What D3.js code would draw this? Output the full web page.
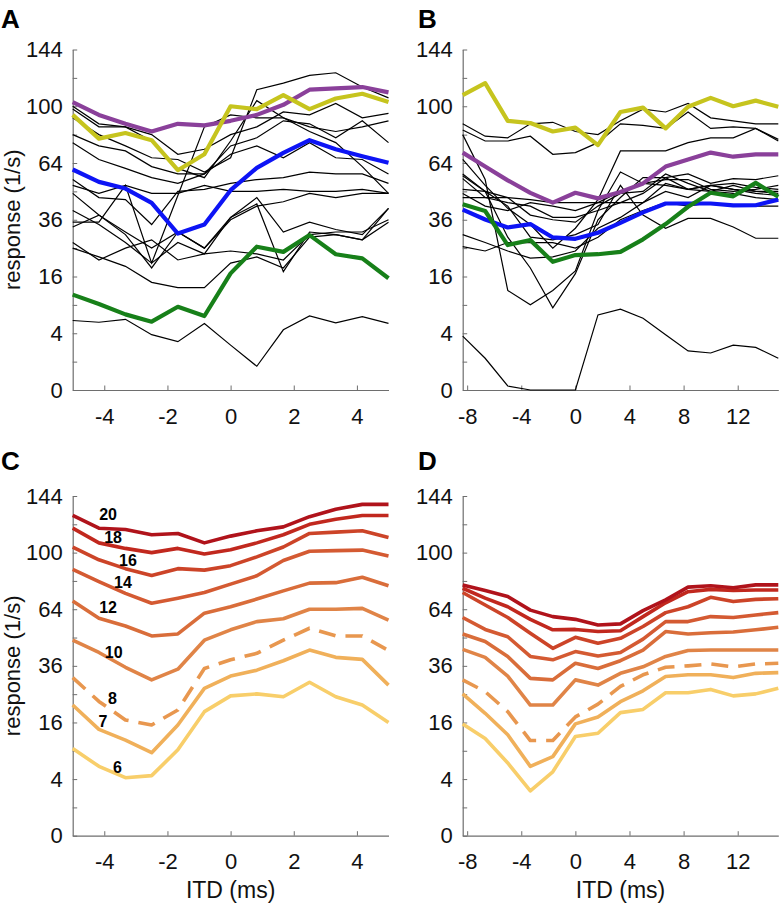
<!DOCTYPE html>
<html><head><meta charset="utf-8">
<script src="https://cdn.jsdelivr.net/npm/d3@7"></script>
<style>
body{margin:0;background:#fff;}
svg{display:block;font-family:"Liberation Sans",Arial,Helvetica,sans-serif;}
</style></head><body>
<svg id="chart" width="782" height="905"></svg>
<script>
// ---------- data ----------
const itdA = [-5, -4.17, -3.33, -2.5, -1.67, -0.83, 0, 0.83, 1.67, 2.5, 3.33, 4.17, 5];
const itdB = [-8.33, -6.67, -5, -3.33, -1.67, 0, 1.67, 3.33, 5, 6.67, 8.33, 10, 11.67, 13.33, 15];

const yTickValues = [0, 1, 4, 9, 16, 25, 36, 49, 64, 81, 100, 121, 144];
const yTickLabels = [0, 4, 16, 36, 64, 100, 144];
const xTicksA = [-4, -2, 0, 2, 4];
const xTicksB = [-8, -4, 0, 4, 8, 12];

// Panel A: individual neurons (black) and highlighted neurons
const blackA = [
  [100, 88, 86, 81, 69, 72, 81, 86, 96, 94, 102, 92, 95],
  [92, 81, 74, 67, 66, 59, 67, 112, 117, 123, 125, 114, 106],
  [98, 86, 86, 77, 61, 56, 77, 104, 92, 83, 76, 62, 48],
  [76, 66, 61, 56, 53, 58, 74, 79, 90, 88, 79, 90, 76],
  [81, 74, 71, 62, 58, 58, 69, 74, 67, 76, 67, 66, 58],
  [52, 48, 52, 48, 48, 52, 49, 49, 50, 49, 49, 50, 48],
  [55, 46, 45, 34, 49, 50, 53, 55, 56, 59, 58, 58, 53],
  [35, 35, 52, 20, 47, 86, 94, 92, 92, 86, 83, 86, 90],
  [33, 38, 31, 25, 31, 25, 37, 46, 31, 35, 32, 30, 41],
  [27, 21, 25, 28, 21, 23, 24, 23, 21, 30, 31, 31, 36],
  [48, 38, 30, 18.5, 31, 25, 36, 42, 44, 48, 46, 48, 48],
  [40, 34, 27, 20, 27, 23, 37, 43, 17.4, 31, 30, 28, 41],
  [25, 22, 19, 14.4, 13, 13, 20, 22, 18.5, 29, 30, 28, 35],
  [6.0, 5.7, 6.2, 3.8, 2.9, 5.5, 2.5, 0.7, 4.5, 6.8, 5.6, 6.7, 5.5]
];
const purpleA = [103, 94, 88, 83, 88, 87, 90, 94, 101, 112, 113, 114, 110];
const yellowA = [94, 78.5, 82, 77.5, 60, 69, 100, 98, 108, 98, 105.5, 109, 103];
const blueA   = [60.4, 53.8, 50.4, 43.5, 30.4, 34, 49.6, 61.3, 69.8, 77.5, 72, 67.9, 64.1];
const greenA  = [11.3, 9.2, 7.1, 5.8, 8.6, 6.8, 16.9, 25.5, 23.7, 29.8, 22.9, 21.5, 15.5];

// Panel B
const blackB = [
  [88, 80, 79, 88, 89, 83, 81, 90, 98, 96, 102, 92, 90, 88, 88],
  [84, 77, 77, 80, 69, 70, 76, 88, 87, 85, 96, 85, 86, 85, 78],
  [81, 55, 12.3, 9, 12.3, 17.6, 40, 59, 53, 52, 50, 52, 53, 51, 50],
  [58, 49, 29, 18.5, 8.4, 16.8, 36, 46, 56, 56, 50, 49, 52, 49, 48],
  [50, 49, 42, 29, 28, 30, 34, 52, 38, 32.5, 36.6, 36.6, 33, 28.6, 28.6],
  [66, 52, 41, 34, 25, 32.5, 45, 71, 71, 71, 76, 79, 79, 85, 77],
  [57, 49, 46, 38, 36, 35, 42, 48, 49, 58, 53, 49, 48, 46, 45],
  [55.5, 46, 43.6, 42, 37, 37, 40, 43.6, 48, 56, 58, 53, 55.5, 55, 57],
  [46, 46, 46, 45, 43.6, 43.6, 43.6, 43.6, 43.6, 53, 50, 52, 50, 49, 49],
  [48, 42, 40, 43.6, 42, 40, 43.6, 49, 53, 55, 55, 50, 49, 50, 52],
  [25.5, 24, 27, 27, 27, 25, 29, 36, 40, 43.6, 42, 43.6, 42, 42, 42],
  [30, 27, 24, 21.6, 22, 24, 32.5, 37, 43.6, 49, 46, 52, 50, 48, 47],
  [3.6, 1.25, 0.02, 0, 0, 0, 7.0, 8.1, 6.4, 3.8, 1.9, 1.7, 2.5, 2.25, 1.25]
];
const yellowB = [108, 117, 90, 88.5, 83, 85.5, 74.5, 96, 99, 85, 99.6, 106, 100, 104, 99.6];
const purpleB = [70, 62, 54.6, 48.3, 43.6, 48.3, 45.6, 48.7, 53, 62, 66, 70, 67.6, 69, 69];
const blueB   = [40.4, 36.1, 32.8, 34.2, 28.9, 28.4, 30.7, 34.7, 39.2, 43.2, 43.2, 43.2, 42.3, 42.4, 45];
const greenB  = [42.9, 39.8, 26.1, 27.9, 20.4, 22.6, 22.9, 23.7, 28.2, 34.2, 41.7, 48.3, 46.6, 53.3, 46.4];

// Panels C and D: model curves, one per parameter value
const curveLabels = ["20", "18", "16", "14", "12", "10", "8", "7", "6"];
const curveC = [
  [128, 118, 117, 113, 114, 107, 112, 116, 119, 127, 133, 137, 137],
  [118, 107, 103, 100, 103, 99, 102, 107, 113, 121, 125, 128, 128],
  [104, 95, 89, 84.5, 89, 88, 91, 97, 104, 114, 115, 116, 111],
  [88.5, 80.6, 73.3, 67.4, 70.4, 73.8, 79, 84.3, 94.5, 101, 101.4, 101.8, 97.6],
  [68.7, 59, 54.9, 49.8, 50.8, 61.8, 65.4, 69.9, 74.8, 79.6, 79.9, 83.4, 78],
  [47.7, 41.9, 35.4, 30.3, 34.6, 47.7, 52.9, 57.2, 58.7, 64, 64, 64.5, 58],
  [31.2, 22.5, 16.7, 15.3, 19.7, 34.9, 38.6, 41.5, 47.7, 53.7, 49.8, 49.8, 42.8],
  [21.3, 14.1, 11.4, 8.6, 15.3, 27.1, 31.8, 34.2, 38.2, 43, 39.7, 38.8, 28.3],
  [9.5, 6.0, 4.2, 4.5, 9.2, 19.2, 24.4, 25.1, 24.1, 29.4, 24.1, 21.3, 16]
];
const curveD = [
  [78.5, 75, 71.4, 63.5, 59.9, 58.4, 55.4, 56, 63.2, 69.4, 77.1, 78, 76.7, 78.5, 78.5],
  [76.4, 70.4, 65.4, 58.4, 52.9, 53.1, 52, 52.4, 59.9, 67.7, 74.3, 75.7, 75, 75.3, 75.3],
  [73.8, 66.4, 59.4, 51.1, 43.8, 49.1, 46.2, 48.6, 54.6, 62.1, 65.4, 70.9, 68.4, 69.7, 70.1],
  [59.4, 53.1, 49.4, 40.1, 38.6, 42.3, 40.3, 41.9, 48.2, 57.2, 57.2, 59.9, 59.4, 60.8, 62.1],
  [50.8, 47.1, 40.1, 30.9, 30.3, 37.1, 34.9, 38.2, 43, 52, 50.8, 51.4, 51.8, 52.9, 54.2],
  [43.3, 39.7, 31.8, 21.3, 21.3, 30.3, 28.3, 32.9, 35.6, 40.1, 42.8, 43, 43, 43, 43],
  [30.3, 25.9, 19.2, 11.3, 11.3, 17.6, 21.6, 27.8, 32.3, 35.4, 36, 36.8, 35.6, 36.8, 37.1],
  [25.1, 18.7, 12.7, 6.0, 7.8, 15.6, 17.6, 22.4, 26.2, 31.6, 32.3, 32.3, 31.2, 32.9, 33.2],
  [15.6, 11.8, 6.6, 2.5, 5.1, 12.3, 13.1, 18.9, 19.9, 25.5, 25.5, 26.7, 24.4, 25.1, 27.1]
];
// label anchor (ITD, response) for panel C annotations
const labelItdC  = [-3.88, -3.72, -3.25, -3.41, -3.88, -3.70, -3.74, -4.04, -3.58];
const labelRespC = [128.8, 110.9, 94.8, 80.3, 65.4, 42.2, 23.7, 16.4, 5.8];

// ---------- styling ----------
const curveColors = ["#b0131b", "#c1281e", "#cc4428", "#d45a32", "#d96d3a", "#e08447", "#e8974f", "#f0b05a", "#f8ce6a"];
const curveDash = [null, null, null, null, null, null, "17,10", null, null];
const FONT = 22;

const svg = d3.select("#chart");

function panel(opt) {
  const x = d3.scaleLinear().domain(opt.xDomain).range([opt.left, opt.right]);
  const y = d3.scaleSqrt().domain([0, 144]).range([opt.bottom, opt.top]);
  const g = svg.append("g");

  const yAxis = d3.axisLeft(y).tickValues(yTickValues)
    .tickFormat(d => yTickLabels.includes(d) ? String(d) : "")
    .tickSizeInner(-4.5).tickSizeOuter(0).tickPadding(10);
  const ya = g.append("g").attr("transform", `translate(${opt.left},0)`).call(yAxis);

  const xAxis = d3.axisBottom(x).tickValues(opt.xTicks)
    .tickFormat(d => String(d))
    .tickSizeInner(-4.5).tickSizeOuter(0).tickPadding(18);
  const xa = g.append("g").attr("transform", `translate(0,${opt.bottom})`).call(xAxis);

  [ya, xa].forEach(a => {
    a.select(".domain").attr("stroke", "#6e6e6e").attr("stroke-width", 1.2);
    a.selectAll(".tick line").attr("stroke", "#6e6e6e").attr("stroke-width", 1);
    a.selectAll("text").attr("font-size", FONT).attr("fill", "#111")
      .attr("font-family", "Liberation Sans, Arial, sans-serif");
  });

  const line = d3.line().x((d, i) => x(opt.xs[i])).y(d => y(d));
  opt.series.forEach(s => {
    g.append("path").datum(s.values)
      .attr("d", line)
      .attr("fill", "none")
      .attr("stroke", s.color)
      .attr("stroke-width", s.width)
      .attr("stroke-linejoin", s.width > 2 ? "round" : "miter")
      .attr("stroke-dasharray", s.dash || null);
  });

  g.append("text").attr("x", opt.letterX).attr("y", opt.letterY)
    .attr("font-size", 26).attr("font-weight", "bold").attr("fill", "#000")
    .text(opt.letter);

  if (opt.ylabel) {
    g.append("text")
      .attr("transform", `translate(20,${(opt.top + opt.bottom) / 2}) rotate(-90)`)
      .attr("text-anchor", "middle").attr("font-size", FONT).attr("fill", "#111")
      .text("response (1/s)");
  }
  if (opt.xlabel) {
    g.append("text").attr("x", (opt.left + opt.right) / 2).attr("y", opt.bottom + 62)
      .attr("text-anchor", "middle").attr("font-size", FONT + 1).attr("fill", "#111")
      .text("ITD (ms)");
  }
  return { g, x, y };
}

const blackStyle = v => ({ values: v, color: "#000", width: 1.2 });

panel({
  letter: "A", letterX: 1, letterY: 28, ylabel: true,
  left: 72.7, right: 388.5, top: 49.5, bottom: 390,
  xDomain: [-5, 5], xTicks: xTicksA, xs: itdA,
  series: [
    ...blackA.map(blackStyle),
    { values: greenA, color: "#178019", width: 4.2 },
    { values: blueA, color: "#0d14f5", width: 4.2 },
    { values: purpleA, color: "#8a409a", width: 4.2 },
    { values: yellowA, color: "#c6c41e", width: 4.2 }
  ]
});

panel({
  letter: "B", letterX: 418, letterY: 28,
  left: 462.7, right: 778.3, top: 49.5, bottom: 390,
  xDomain: [-8.33, 15], xTicks: xTicksB, xs: itdB,
  series: [
    ...blackB.map(blackStyle),
    { values: purpleB, color: "#8a409a", width: 4.2 },
    { values: blueB, color: "#0d14f5", width: 4.2 },
    { values: greenB, color: "#178019", width: 4.2 },
    { values: yellowB, color: "#c6c41e", width: 4.2 }
  ]
});

const pC = panel({
  letter: "C", letterX: 1, letterY: 470, ylabel: true, xlabel: true,
  left: 72.7, right: 388.5, top: 496, bottom: 835.7,
  xDomain: [-5, 5], xTicks: xTicksA, xs: itdA,
  series: curveC.map((v, i) => ({ values: v, color: curveColors[i], width: 3.6, dash: curveDash[i] })).reverse()
});

pC.g.selectAll(".clabel").data(curveLabels).enter().append("text")
  .attr("x", (d, i) => pC.x(labelItdC[i]))
  .attr("y", (d, i) => pC.y(labelRespC[i]))
  .attr("dy", "0.36em")
  .attr("text-anchor", "middle")
  .attr("font-size", 16).attr("font-weight", "bold").attr("fill", "#000")
  .text(d => d);

panel({
  letter: "D", letterX: 418, letterY: 470, xlabel: true,
  left: 462.7, right: 778.3, top: 496, bottom: 835.7,
  xDomain: [-8.33, 15], xTicks: xTicksB, xs: itdB,
  series: curveD.map((v, i) => ({ values: v, color: curveColors[i], width: 3.6, dash: curveDash[i] })).reverse()
});
</script>
</body></html>
